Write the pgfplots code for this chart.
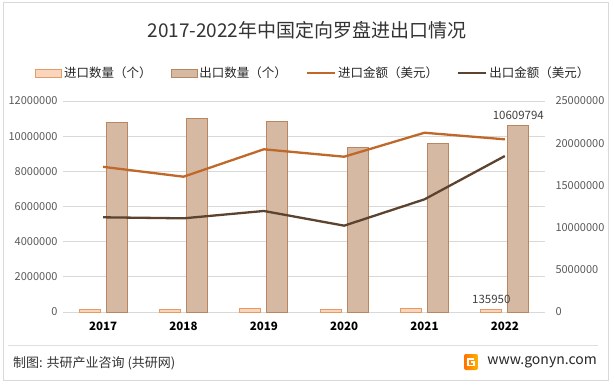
\documentclass[border=0pt]{standalone}
\usepackage{fontspec}
\setmainfont{Noto Sans CJK SC}
\usepackage{pgfplots}
\pgfplotsset{compat=1.18}
\definecolor{impfill}{HTML}{F8D5BC}
\definecolor{impdraw}{HTML}{E59B64}
\definecolor{expfill}{HTML}{D6B9A2}
\definecolor{expdraw}{HTML}{B98660}
\definecolor{impline}{HTML}{C0672A}
\definecolor{expline}{HTML}{5B4330}
\definecolor{ticktxt}{HTML}{595959}
\definecolor{gridc}{HTML}{D9D9D9}
\pgfplotsset{
  barleg/.style={legend image code/.code={\draw[##1] (0pt,-4pt) rectangle (26pt,4pt);}},
  lineleg/.style={legend image code/.code={\draw[##1] (0pt,0pt) -- (28pt,0pt);}},
}
\begin{document}
\begin{tikzpicture}[x=1pt,y=1pt]
\path[use as bounding box] (0,0) rectangle (614,384);
\draw[gray!30, line width=0.8pt] (3,4) rectangle (608,382);
\node[text=black!80, font=\fontsize{19}{22}\selectfont] at (307,354) {2017-2022年中国定向罗盘进出口情况};
\begin{axis}[
  at={(63pt,72pt)}, anchor=south west,
  width=482pt, height=211pt, scale only axis,
  xmin=-0.5, xmax=5.5, ymin=0, ymax=12000000,
  xtick={0,1,2,3,4,5}, xticklabels={2017,2018,2019,2020,2021,2022},
  xticklabel style={font=\fontsize{11.5}{13}\selectfont\bfseries, text=black, yshift=-6pt},
  ytick={0,2000000,4000000,6000000,8000000,10000000,12000000},
  scaled y ticks=false,
  yticklabel style={/pgf/number format/fixed, /pgf/number format/1000 sep={}, /pgf/number format/assume math mode=true, font=\fontsize{11}{13}\selectfont, text=ticktxt, xshift=-2pt},
  major tick length=0pt,
  axis x line*=bottom, axis y line*=left,
  x axis line style={gridc, line width=0.8pt, -},
  y axis line style={draw=none},
  ymajorgrids, grid style={gridc, line width=0.8pt},
  clip=false,
]
\addplot[ybar, bar width=21pt, bar shift=-13.5pt, fill=impfill, draw=impdraw, line width=0.8pt]
  coordinates {(0,140000) (1,140000) (2,190000) (3,140000) (4,190000) (5,135950)};
\addplot[ybar, bar width=21pt, bar shift=13.5pt, fill=expfill, draw=expdraw, line width=0.8pt]
  coordinates {(0,10790000) (1,11020000) (2,10850000) (3,9340000) (4,9590000) (5,10609794)};
\node[anchor=south, font=\fontsize{11.5}{13}\selectfont, text=black!75, inner sep=0pt, yshift=6pt, xshift=13.5pt] at (axis cs:5,10609794) {10609794};
\node[anchor=south, font=\fontsize{11.5}{13}\selectfont, text=black!75, inner sep=0pt, yshift=6pt, xshift=-13.5pt] at (axis cs:5,135950) {135950};
\end{axis}
\begin{axis}[
  at={(63pt,72pt)}, anchor=south west,
  width=482pt, height=211pt, scale only axis,
  xmin=-0.5, xmax=5.5, ymin=0, ymax=25000000,
  axis x line=none, axis y line*=right,
  y axis line style={draw=none},
  ytick={0,5000000,10000000,15000000,20000000,25000000},
  scaled y ticks=false,
  yticklabel style={/pgf/number format/fixed, /pgf/number format/1000 sep={}, /pgf/number format/assume math mode=true, font=\fontsize{11}{13}\selectfont, text=ticktxt, xshift=7pt},
  major tick length=0pt,
  legend columns=4,
  legend style={at={(axis description cs:-0.058,1.133)}, anchor=west, draw=none, fill=none,
    font=\fontsize{12.5}{14}\selectfont, inner sep=0pt,
    nodes={inner sep=1pt, text=black!85},
    /tikz/every odd column/.append style={column sep=1pt},
    /tikz/every even column/.append style={column sep=18pt}},
  legend cell align=left,
  clip=false,
]
\addlegendimage{fill=impfill, draw=impdraw, line width=0.8pt, barleg}
\addlegendentry{进口数量（个）}
\addlegendimage{fill=expfill, draw=expdraw, line width=0.8pt, barleg}
\addlegendentry{出口数量（个）}
\addplot[impline, line width=2.3pt, lineleg]
  coordinates {(0,17200000) (1,16030000) (2,19280000) (3,18400000) (4,21240000) (5,20460000)};
\addlegendentry{进口金额（美元）}
\addplot[expline, line width=2.3pt, lineleg]
  coordinates {(0,11220000) (1,11100000) (2,11970000) (3,10230000) (4,13350000) (5,18480000)};
\addlegendentry{出口金额（美元）}
\end{axis}
\draw[gray!25, line width=0.8pt] (8,39) -- (598,39);
\node[anchor=west, font=\fontsize{13}{15}\selectfont, text=black!80, inner sep=0pt] at (13,21) {制图: 共研产业咨询 (共研网)};
\node[anchor=east, font=\fontsize{14}{16}\selectfont, text=black!85, inner sep=0pt] at (597,22) {www.gonyn.com};
\shade[left color=orange!90!red, right color=orange!60!yellow, rounded corners=2pt] (464,14) rectangle (478,30);
\draw[white, line width=1.6pt] (474,25) -- (468,25) -- (468,18.5) -- (474,18.5) -- (474,22) -- (471,22);
\end{tikzpicture}
\end{document}
